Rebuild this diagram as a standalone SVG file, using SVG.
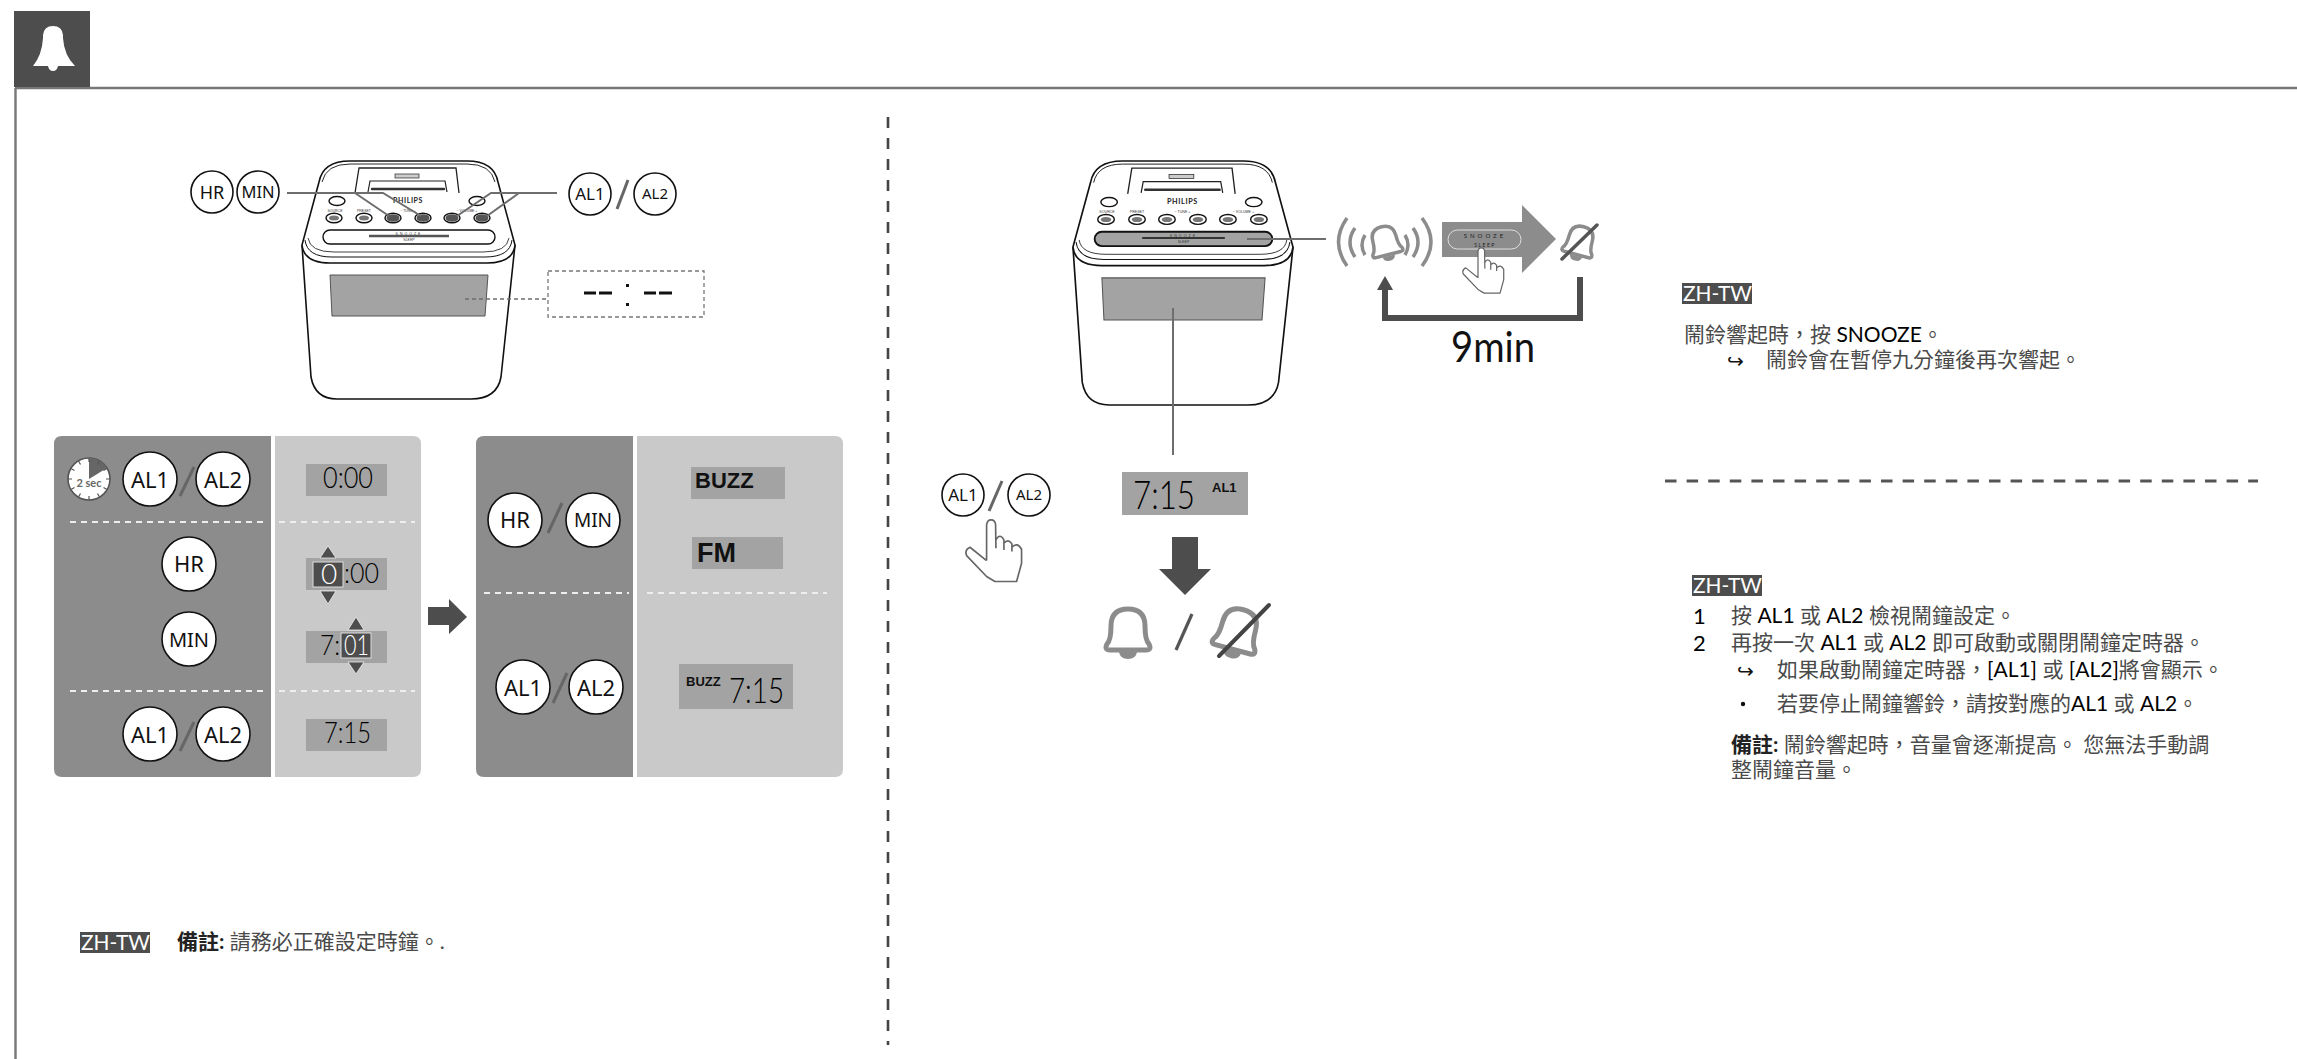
<svg xmlns="http://www.w3.org/2000/svg" xmlns:xlink="http://www.w3.org/1999/xlink" width="2297" height="1059" viewBox="0 0 2297 1059">
<style>
text{font-family:Lato,"Noto Sans CJK TC","Noto Sans",sans-serif}
.c{fill:#fff;stroke:#111;stroke-width:1.6}
.cl{font-family:"Noto Sans",sans-serif;fill:#111;text-anchor:middle}
.sl{stroke:#666;stroke-width:3;fill:none}
.dw{stroke:#eee;stroke-width:2;stroke-dasharray:6 5;fill:none}
.lcd{fill:#a3a3a3}
.seg{font-family:Lato,sans-serif;font-weight:300;fill:#000}
.sw{font-family:Lato,sans-serif;font-weight:300;fill:#fff}
.tag{fill:#4d4d4d}
.tagt{fill:#fff;font-size:21px}
.t{font-size:21px;fill:#4a4a4a}
.k{fill:#000}
.bd{fill:#222;font-weight:bold}
.lbl{font-family:"Liberation Sans",sans-serif;font-weight:bold;fill:#111}
.mini{font-family:"Liberation Sans",sans-serif;font-size:3.5px;fill:#333;text-anchor:middle}
.bellb{fill:none;stroke:#8c8c8c;stroke-width:5;stroke-linejoin:round}
.hand{fill:#fff;stroke:#666;stroke-width:5;stroke-linejoin:round}
</style>
<defs>
<g id="clock-base">
<path d="M302,245 L311,377 Q315,399 337,399 L471,399 Q497,399 501,377 L515,245" fill="#fff" stroke="#111" stroke-width="1.6"/>
<path d="M302,245 Q304,263 330,263 L487,263 Q513,263 515,245 L498,182 Q494,161 467,161 L350,161 Q323,161 319,182 Z" fill="#fff" stroke="#111" stroke-width="1.6"/>
<path d="M305,240 Q307,257 332,257 L485,257 Q510,257 512,240" fill="none" stroke="#111" stroke-width="1"/>
<path d="M308,238 Q310,252 334,252 L483,252 Q507,252 509,238" fill="none" stroke="#111" stroke-width=".8"/>
<path d="M322,182 Q326,164 350,164 L467,164 Q491,164 495,182" fill="none" stroke="#111" stroke-width=".9"/>
<path d="M355,193 L359,168 L456,168 L459,193" fill="#fff" stroke="#222" stroke-width="1.3"/>
<rect x="395" y="174" width="24" height="4" fill="#ccc" stroke="#222" stroke-width=".7"/>
<path d="M368,192 L370,181 L445,181 L447,192" fill="#fff" stroke="#222" stroke-width="1.2"/>
<path d="M372,189 H444" fill="none" stroke="#333" stroke-width="2.400" stroke-linecap="round"/>
<path d="M330,275 L488,275 L485,316 L332,316 Z" fill="#a3a3a3" stroke="#555" stroke-width="1"/>
<text x="408" y="203" font-family="Liberation Serif,serif" font-weight="bold" font-size="7" text-anchor="middle" letter-spacing=".6" fill="#222">PHILIPS</text>
<ellipse cx="337" cy="201" rx="8" ry="4.500" fill="#fff" stroke="#111" stroke-width="1.400"/>
<ellipse cx="477" cy="201" rx="8" ry="4.500" fill="#fff" stroke="#111" stroke-width="1.400"/>
<g fill="#fff" stroke="#111" stroke-width="1.400">
<ellipse cx="334" cy="218" rx="8" ry="4.800"/><ellipse cx="364" cy="218" rx="8" ry="4.800"/><ellipse cx="393" cy="218" rx="8" ry="4.800"/><ellipse cx="423" cy="218" rx="8" ry="4.800"/><ellipse cx="452" cy="218" rx="8" ry="4.800"/><ellipse cx="482" cy="218" rx="8" ry="4.800"/>
</g>
<g fill="#777"><ellipse cx="334" cy="218" rx="5" ry="2.500"/><ellipse cx="364" cy="218" rx="5" ry="2.500"/><ellipse cx="393" cy="218" rx="5" ry="2.500"/><ellipse cx="423" cy="218" rx="5" ry="2.500"/><ellipse cx="452" cy="218" rx="5" ry="2.500"/><ellipse cx="482" cy="218" rx="5" ry="2.500"/></g>
<text class="mini" x="335" y="212">SOURCE</text><text class="mini" x="364" y="212">PRESET</text><text class="mini" x="408" y="212">−  TUNE  +</text><text class="mini" x="467" y="212">−  VOLUME  +</text>
</g>
<g id="bell-shape">
<path class="bellb" d="M-21,14 Q-17,10 -17,-4 Q-17,-21 0,-21 Q17,-21 17,-4 Q17,10 21,14 Q24,20 18,20 L-18,20 Q-24,20 -21,14 Z"/>
<path d="M-9,22 L9,22 Q8,29 0,29 Q-8,29 -9,22 Z" fill="#8c8c8c"/>
</g>
<path id="hand-shape" class="hand" d="M200,362 L200,255 Q202,240 213,240 Q226,240 227,255 L228,325 M228,300 Q240,278 252,300 L252,330 M252,310 Q265,295 276,312 L276,335 M276,322 Q292,305 305,328 L305,370 L290,425 L225,425 L200,410 L140,347 Q133,330 150,322 L200,362"/>
</defs>

<g id="frame" fill="none" stroke="#777" stroke-width="2.400">
<path d="M15.500,88 L15.500,1059"/><path d="M15,88 L2297,88"/>
</g>
<g id="header-icon">
<rect x="14" y="11" width="76" height="76" fill="#4d4d4d"/>
<path d="M33,66 Q42,55 43,38 L43,35 Q44,26 53,26 Q62,26 63,35 L63,38 Q64,55 75,66 Z" fill="#fff"/>
<path d="M48,66 L58,66 Q57,71 53,71 Q49,71 48,66 Z" fill="#fff"/>
</g>
<g id="dividers">
<path d="M888,117 L888,1045" stroke="#444" stroke-width="2.600" stroke-dasharray="11 10" fill="none"/>
<path d="M1665,481 L2258,481" stroke="#555" stroke-width="3" stroke-dasharray="11.500 10.100" fill="none"/>
</g>

<g id="clock-left">
<use href="#clock-base"/>
<g fill="#555"><ellipse cx="393" cy="218" rx="6.500" ry="3.800"/><ellipse cx="423" cy="218" rx="6.500" ry="3.800"/><ellipse cx="452" cy="218" rx="6.500" ry="3.800"/><ellipse cx="482" cy="218" rx="6.500" ry="3.800"/></g>
<rect x="323" y="230" width="172" height="14" rx="7" fill="#fff" stroke="#111" stroke-width="1.400"/>
<path d="M369,236 L449,236" stroke="#555" stroke-width="2.500"/>
<text class="mini" x="409" y="235" letter-spacing="2" font-size="4">SNOOZE</text><text class="mini" x="409" y="241">SLEEP</text>
</g>
<g id="hr-min-top">
<ellipse class="c" cx="212" cy="192" rx="21" ry="21"/><text class="cl" x="212" y="199" font-size="18">HR</text>
<ellipse class="c" cx="258" cy="192" rx="21" ry="21"/><text class="cl" x="258" y="198" font-size="16.500">MIN</text>
</g>
<g id="al-top">
<circle class="c" cx="590" cy="194" r="21"/><text class="cl" x="590" y="200" font-size="17">AL1</text>
<path class="sl" d="M628,180 L617,209"/>
<circle class="c" cx="655" cy="194" r="21"/><text class="cl" x="655" y="199" font-size="15">AL2</text>
</g>
<g id="display-blank">
<rect x="548" y="271" width="156" height="46" fill="#fff" stroke="#777" stroke-width="1.300" stroke-dasharray="4 3"/>
<path d="M584,293 H596 M599,293 H612 M644,293 H656 M659,293 H672" stroke="#111" stroke-width="3"/>
<rect x="626" y="284" width="3" height="3" fill="#111"/><rect x="626" y="303" width="3" height="3" fill="#111"/>
</g>

<g id="panel-left">
<path d="M62,436 H271 V777 H62 Q54,777 54,769 V444 Q54,436 62,436 Z" fill="#8c8c8c"/>
<path d="M275,436 H413 Q421,436 421,444 V769 Q421,777 413,777 H275 Z" fill="#c9c9c9"/>
<path class="dw" d="M70,522 H264 M70,691 H264"/>
<path class="dw" d="M279,522 H415 M279,691 H415"/>
</g>
<g id="timer-2sec">
<circle cx="89" cy="479" r="21" fill="#fff" stroke="#555" stroke-width="1.600"/>
<path d="M89,479 L89,458 A21,21 0 0 1 107,468 Z" fill="#666"/>
<path d="M89,458 v4 M99.500,461 l-2,3.500 M107,468.500 l-3.500,2 M110,479 h-4 M107,489.500 l-3.500,-2 M99.500,497 l-2,-3.500 M89,500 v-4 M78.500,497 l2,-3.500 M71,489.500 l3.500,-2 M68,479 h4 M71,468.500 l3.500,2 M78.500,461 l2,3.500" stroke="#555" stroke-width="1.200"/>
<text x="89" y="487" font-family="Noto Sans,sans-serif" font-weight="bold" font-size="11" fill="#666" text-anchor="middle">2 sec</text>
</g>
<g id="al-row1">
<circle class="c" cx="150" cy="479" r="27"/><text class="cl" x="150" y="488" font-size="22">AL1</text>
<path class="sl" d="M194,467 L180,496"/>
<circle class="c" cx="223" cy="479" r="27"/><text class="cl" x="223" y="488" font-size="22">AL2</text>
</g>
<g id="hr-row"><circle class="c" cx="189" cy="564" r="27"/><text class="cl" x="189" y="572" font-size="22">HR</text></g>
<g id="min-row"><circle class="c" cx="189" cy="639" r="27"/><text class="cl" x="189" y="647" font-size="20">MIN</text></g>
<g id="al-row3">
<circle class="c" cx="150" cy="734" r="27"/><text class="cl" x="150" y="743" font-size="22">AL1</text>
<path class="sl" d="M194,722 L180,751"/>
<circle class="c" cx="223" cy="734" r="27"/><text class="cl" x="223" y="743" font-size="22">AL2</text>
</g>
<g id="lcd-000"><rect class="lcd" x="306" y="464" width="81" height="32"/><text class="seg" x="323" y="488" font-size="29" textLength="50" lengthAdjust="spacingAndGlyphs">0:00</text></g>
<g id="lcd-hour">
<rect class="lcd" x="306" y="558" width="81" height="32"/>
<rect x="313" y="562" width="30" height="25" fill="#4d4d4d" stroke="#ddd" stroke-width="1"/>
<text class="sw" x="321" y="584" font-size="28">0</text>
<text class="seg" x="344" y="583" font-size="28" textLength="35" lengthAdjust="spacingAndGlyphs">:00</text>
<path d="M328,546 L336,558 H320 Z M320,591 H336 L328,604 Z" fill="#4d4d4d" stroke="#eee" stroke-width=".8"/>
</g>
<g id="lcd-min">
<rect class="lcd" x="306" y="631" width="81" height="32"/>
<text class="seg" x="320" y="655" font-size="28" textLength="20" lengthAdjust="spacingAndGlyphs">7:</text>
<rect x="341" y="633" width="30" height="25" fill="#4d4d4d" stroke="#ddd" stroke-width="1"/>
<text class="sw" x="344" y="655" font-size="28" textLength="25" lengthAdjust="spacingAndGlyphs">01</text>
<path d="M356,617 L364,630 H348 Z M348,662 H364 L356,674 Z" fill="#4d4d4d" stroke="#eee" stroke-width=".8"/>
</g>
<g id="lcd-715"><rect class="lcd" x="306" y="719" width="81" height="32"/><text class="seg" x="324" y="743" font-size="29" textLength="47" lengthAdjust="spacingAndGlyphs">7:15</text></g>

<g id="arrow-mid"><path d="M428,607 H449 V599 L467,617 L449,634 V625 H428 Z" fill="#4d4d4d"/></g>

<g id="panel-right">
<path d="M484,436 H633 V777 H484 Q476,777 476,769 V444 Q476,436 484,436 Z" fill="#8c8c8c"/>
<path d="M637,436 H835 Q843,436 843,444 V769 Q843,777 835,777 H637 Z" fill="#c9c9c9"/>
<path class="dw" d="M484,593 H629 M647,593 H827"/>
</g>
<g id="hr-min-row">
<circle class="c" cx="515" cy="520" r="27"/><text class="cl" x="515" y="528" font-size="22">HR</text>
<path class="sl" d="M562,503 L548,533"/>
<circle class="c" cx="593" cy="520" r="27"/><text class="cl" x="593" y="527" font-size="19">MIN</text>
</g>
<g id="al-row4">
<circle class="c" cx="523" cy="687" r="27"/><text class="cl" x="523" y="696" font-size="22">AL1</text>
<path class="sl" d="M567,673 L553,703"/>
<circle class="c" cx="596" cy="687" r="27"/><text class="cl" x="596" y="696" font-size="22">AL2</text>
</g>
<g id="buzz-lcd"><rect class="lcd" x="691" y="467" width="94" height="32"/><text class="lbl" x="695" y="488" font-size="22">BUZZ</text></g>
<g id="fm-lcd"><rect class="lcd" x="692" y="537" width="91" height="32"/><text class="lbl" x="697" y="562" font-size="27">FM</text></g>
<g id="buzz-time"><rect class="lcd" x="679" y="664" width="114" height="45"/><text class="lbl" x="686" y="686" font-size="13">BUZZ</text><text class="seg" x="729" y="703" font-size="36" textLength="55" lengthAdjust="spacingAndGlyphs">7:15</text></g>

<g id="clock-right">
<use href="#clock-base" transform="matrix(1.033 0 0 1.025 761 -4)"/>
<g transform="matrix(1.033 0 0 1.025 761 -4)">
<rect x="323" y="230" width="172" height="14" rx="7" fill="#a3a3a3" stroke="#111" stroke-width="1.800"/>
<path d="M369,236 L449,236" stroke="#333" stroke-width="2"/>
<text class="mini" x="409" y="235" letter-spacing="2" font-size="4">SNOOZE</text><text class="mini" x="409" y="241">SLEEP</text>
</g>
</g>
<g id="ringing-bell">
<use href="#bell-shape" transform="translate(1385,241) rotate(-14) scale(.7)"/>
<path d="M1347,218 Q1330,242 1347,266 M1355,228 Q1345,242 1355,257 M1365,235 Q1359,245 1365,255 M1405,235 Q1411,245 1405,255 M1413,228 Q1423,242 1413,257 M1422,218 Q1440,242 1422,266" fill="none" stroke="#8c8c8c" stroke-width="3.500"/>
</g>
<g id="snooze-arrow">
<path d="M1442,222 H1522 V205 L1556,239 L1522,273 V257 H1442 Z" fill="#8c8c8c"/>
<rect x="1448" y="230" width="73" height="19" rx="9.500" fill="#8c8c8c" stroke="#ddd" stroke-width="1"/>
<text x="1485" y="238" font-family="Noto Sans,sans-serif" font-size="6" letter-spacing="3" text-anchor="middle" fill="#222">SNOOZE</text>
<text x="1485" y="247" font-family="Noto Sans,sans-serif" font-size="5" letter-spacing="1.500" text-anchor="middle" fill="#222">SLEEP</text>
<use href="#hand-shape" transform="matrix(.245 0 0 .245 1429 189)"/>
</g>
<g id="muted-bell-top">
<use href="#bell-shape" transform="translate(1580,241) rotate(15) scale(.7)"/>
<path d="M1597,225 L1562,259" stroke="#555" stroke-width="3.500" stroke-linecap="round"/>
</g>
<g id="al-hand">
<circle class="c" cx="963" cy="495" r="21"/><text class="cl" x="963" y="501" font-size="17">AL1</text>
<path class="sl" d="M1002,481 L989,511"/>
<circle class="c" cx="1029" cy="495" r="21"/><text class="cl" x="1029" y="500" font-size="15">AL2</text>
<use href="#hand-shape" transform="matrix(.333 0 0 .333 920 440)"/>
</g>
<g id="lcd-al1"><rect class="lcd" x="1122" y="472" width="126" height="43"/><text class="seg" x="1133" y="509" font-size="40" textLength="62" lengthAdjust="spacingAndGlyphs">7:15</text><text class="lbl" x="1212" y="492" font-size="13">AL1</text></g>
<g id="arrow-down"><path d="M1172,537 H1198 V569 H1211 L1185,595 L1159,569 H1172 Z" fill="#4d4d4d"/></g>
<g id="bell-on"><use href="#bell-shape" transform="translate(1128,630)"/></g>
<path id="bell-slash" d="M1192,614 L1176,650" stroke="#555" stroke-width="3.200" fill="none"/>
<g id="bell-off">
<use href="#bell-shape" transform="translate(1238,630) rotate(15)"/>
<path d="M1269,605 L1219,656" stroke="#444" stroke-width="4" stroke-linecap="round"/>
</g>

<g id="connectors" fill="none" stroke="#6e6e6e" stroke-width="2">
<path d="M287,193 H383 L421,216 M355,193 L389,216"/>
<path d="M557,193 H491 L457,216 M519,193 L487,216"/>
<path d="M465,299 H548" stroke-dasharray="4 3" stroke-width="1.400"/>
<path d="M1247,239 H1326"/>
<path d="M1173,308 V455"/>
<path d="M1580,277 V318 H1385 V288" stroke="#4d4d4d" stroke-width="6"/>
<path d="M1385,276 L1393,290 H1377 Z" fill="#4d4d4d" stroke="none"/>
</g>
<g id="label-9min"><text x="1451" y="362" font-size="42" fill="#111" textLength="84" lengthAdjust="spacingAndGlyphs">9min</text></g>

<g id="note-left">
<rect class="tag" x="80" y="932" width="70" height="21"/>
<text class="tagt" x="81" y="950" textLength="69" lengthAdjust="spacingAndGlyphs">ZH-TW</text>
<text class="t" x="177" y="949"><tspan class="bd">備註:</tspan> 請務必正確設定時鐘。.</text>
</g>
<g id="note-snooze">
<rect class="tag" x="1682" y="283" width="70" height="21"/>
<text class="tagt" x="1683" y="301" textLength="69" lengthAdjust="spacingAndGlyphs">ZH-TW</text>
<text class="t" x="1684" y="342">鬧鈴響起時，按 <tspan class="k">SNOOZE</tspan>。</text>
<text x="1727" y="368" font-family="DejaVu Sans,sans-serif" font-size="20" fill="#111">↪</text>
<text class="t" x="1766" y="367">鬧鈴會在暫停九分鐘後再次響起。</text>
</g>
<g id="note-alarm">
<rect class="tag" x="1692" y="575" width="70" height="21"/>
<text class="tagt" x="1693" y="593" textLength="69" lengthAdjust="spacingAndGlyphs">ZH-TW</text>
<text class="k" x="1693" y="624" font-size="22">1</text>
<text class="t" x="1731" y="623">按 <tspan class="k">AL1</tspan> 或 <tspan class="k">AL2</tspan> 檢視鬧鐘設定。</text>
<text class="k" x="1693" y="651" font-size="22">2</text>
<text class="t" x="1731" y="650">再按一次 <tspan class="k">AL1</tspan> 或 <tspan class="k">AL2</tspan> 即可啟動或關閉鬧鐘定時器。</text>
<text x="1737" y="678" font-family="DejaVu Sans,sans-serif" font-size="20" fill="#111">↪</text>
<text class="t" x="1777" y="677">如果啟動鬧鐘定時器，<tspan class="k">[AL1]</tspan> 或 <tspan class="k">[AL2]</tspan>將會顯示。</text>
<circle cx="1743" cy="704" r="2.200" fill="#111"/>
<text class="t" x="1777" y="711">若要停止鬧鐘響鈴，請按對應的<tspan class="k">AL1</tspan> 或 <tspan class="k">AL2</tspan>。</text>
<text class="t" x="1731" y="752"><tspan class="bd">備註:</tspan> 鬧鈴響起時，音量會逐漸提高。 您無法手動調</text>
<text class="t" x="1731" y="777">整鬧鐘音量。</text>
</g>
</svg>
